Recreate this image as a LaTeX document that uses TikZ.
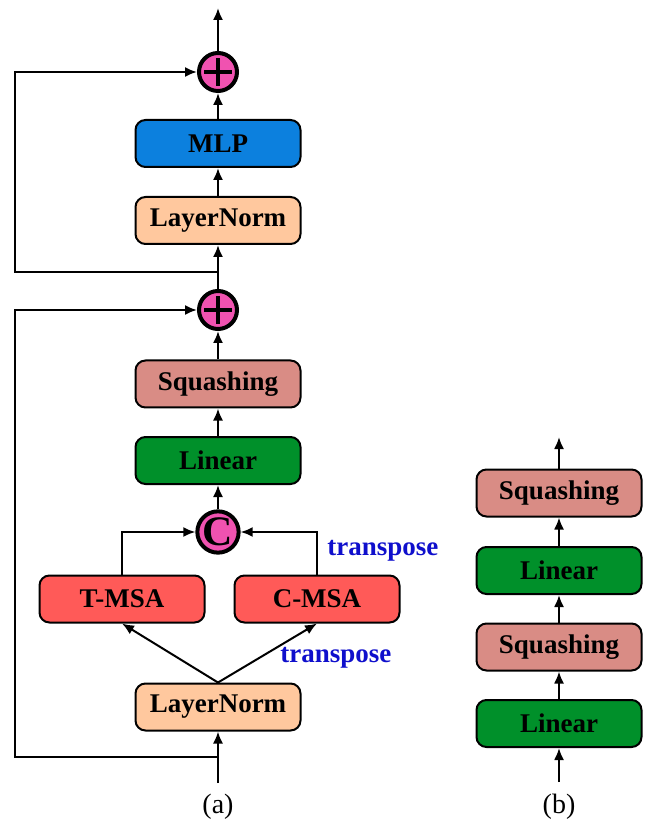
\documentclass[tikz,border=0pt]{standalone}
\usepackage{fontspec}
\setmainfont{Liberation Serif}
\usetikzlibrary{arrows.meta}
\usetikzlibrary{calc}

\definecolor{mlpblue}{RGB}{12,128,222}
\definecolor{normpeach}{RGB}{255,200,158}
\definecolor{squashpink}{RGB}{217,140,133}
\definecolor{lingreen}{RGB}{0,144,42}
\definecolor{msared}{RGB}{255,90,88}
\definecolor{addpink}{RGB}{240,82,176}
\definecolor{trblue}{RGB}{15,15,204}

\tikzset{
  block/.style={draw=black, line width=1pt, rounded corners=5pt, minimum width=82.5pt,
    minimum height=23.5pt, font=\fontsize{13.5}{15}\selectfont\bfseries, inner sep=0pt},
  mlpbox/.style={block, fill=mlpblue},
  normbox/.style={block, fill=normpeach},
  squashbox/.style={block, fill=squashpink},
  linbox/.style={block, fill=lingreen},
  msabox/.style={block, fill=msared},
  opcirc/.style={circle, draw=black, line width=2pt, fill=addpink, minimum size=19pt, inner sep=0pt},
  addcirc/.style={opcirc, path picture={
      \draw[line width=2pt] ([xshift=-7pt]path picture bounding box.center) -- ([xshift=7pt]path picture bounding box.center);
      \draw[line width=2pt] ([yshift=-7pt]path picture bounding box.center) -- ([yshift=7pt]path picture bounding box.center);}},
  catcirc/.style={opcirc, font=\fontsize{21}{21}\selectfont\bfseries},
  flow/.style={line width=1pt, -{Latex[length=6pt,width=5pt]}},
  trlabel/.style={text=trblue, font=\fontsize{13.5}{15}\selectfont\bfseries, anchor=west, inner sep=0pt},
  caption/.style={font=\fontsize{14}{16}\selectfont}
}

\begin{document}
\begin{tikzpicture}[x=0.5pt, y=-0.5pt]
  \useasboundingbox (0,0) rectangle (648,822);

  % (a) block
  \node[normbox] (lnA) at (218,707) {LayerNorm};
  \node[msabox] (tmsa) at (122,599) {T-MSA};
  \node[msabox] (cmsa) at (317,599) {C-MSA};
  \node[catcirc] (cat) at (218,532) {C};
  \node[linbox] (linA) at (218,460.5) {Linear};
  \node[squashbox] (sqA) at (218,384) {Squashing};
  \node[addcirc] (addA) at (218,310) {};
  \node[normbox] (lnB) at (218,220.5) {LayerNorm};
  \node[mlpbox] (mlp) at (218,143.5) {MLP};
  \node[addcirc] (addB) at (218,72) {};

  \coordinate (inA) at (218,783);
  \coordinate (skipA) at (218,757);
  \coordinate (skipB) at (218,272);
  \coordinate (outA) at (218,8);

  \draw[flow] (inA) -- (lnA.south);
  \draw[flow] (skipA) -- ++(-203,0) |- (addA.west);
  \draw[flow] (lnA.north) -- (tmsa.south);
  \draw[flow] (lnA.north) -- (cmsa.south);
  \draw[flow] (tmsa.north) |- (cat.west);
  \draw[flow] (cmsa.north) |- (cat.east);
  \draw[flow] (cat) -- (linA);
  \draw[flow] (linA) -- (sqA);
  \draw[flow] (sqA) -- (addA);
  \draw[flow] (addA) -- (lnB);
  \draw[flow] (skipB) -- ++(-203,0) |- (addB.west);
  \draw[flow] (lnB) -- (mlp);
  \draw[flow] (mlp) -- (addB);
  \draw[flow] (addB) -- (outA);

  \node[trlabel] (trA) at (327,551) {transpose};
  \node[trlabel] (trB) at (280,658) {transpose};
  \node[caption] (capA) at (218,807) {(a)};

  % (b) block
  \node[linbox] (linB) at (559,723.5) {Linear};
  \node[squashbox] (sqB) at (559,647) {Squashing};
  \node[linbox] (linC) at (559,570.5) {Linear};
  \node[squashbox] (sqC) at (559,493) {Squashing};

  \coordinate (inB) at (559,782);
  \coordinate (outB) at (559,437);

  \draw[flow] (inB) -- (linB);
  \draw[flow] (linB) -- (sqB);
  \draw[flow] (sqB) -- (linC);
  \draw[flow] (linC) -- (sqC);
  \draw[flow] (sqC) -- (outB);

  \node[caption] (capB) at (559,807) {(b)};
\end{tikzpicture}
\end{document}
